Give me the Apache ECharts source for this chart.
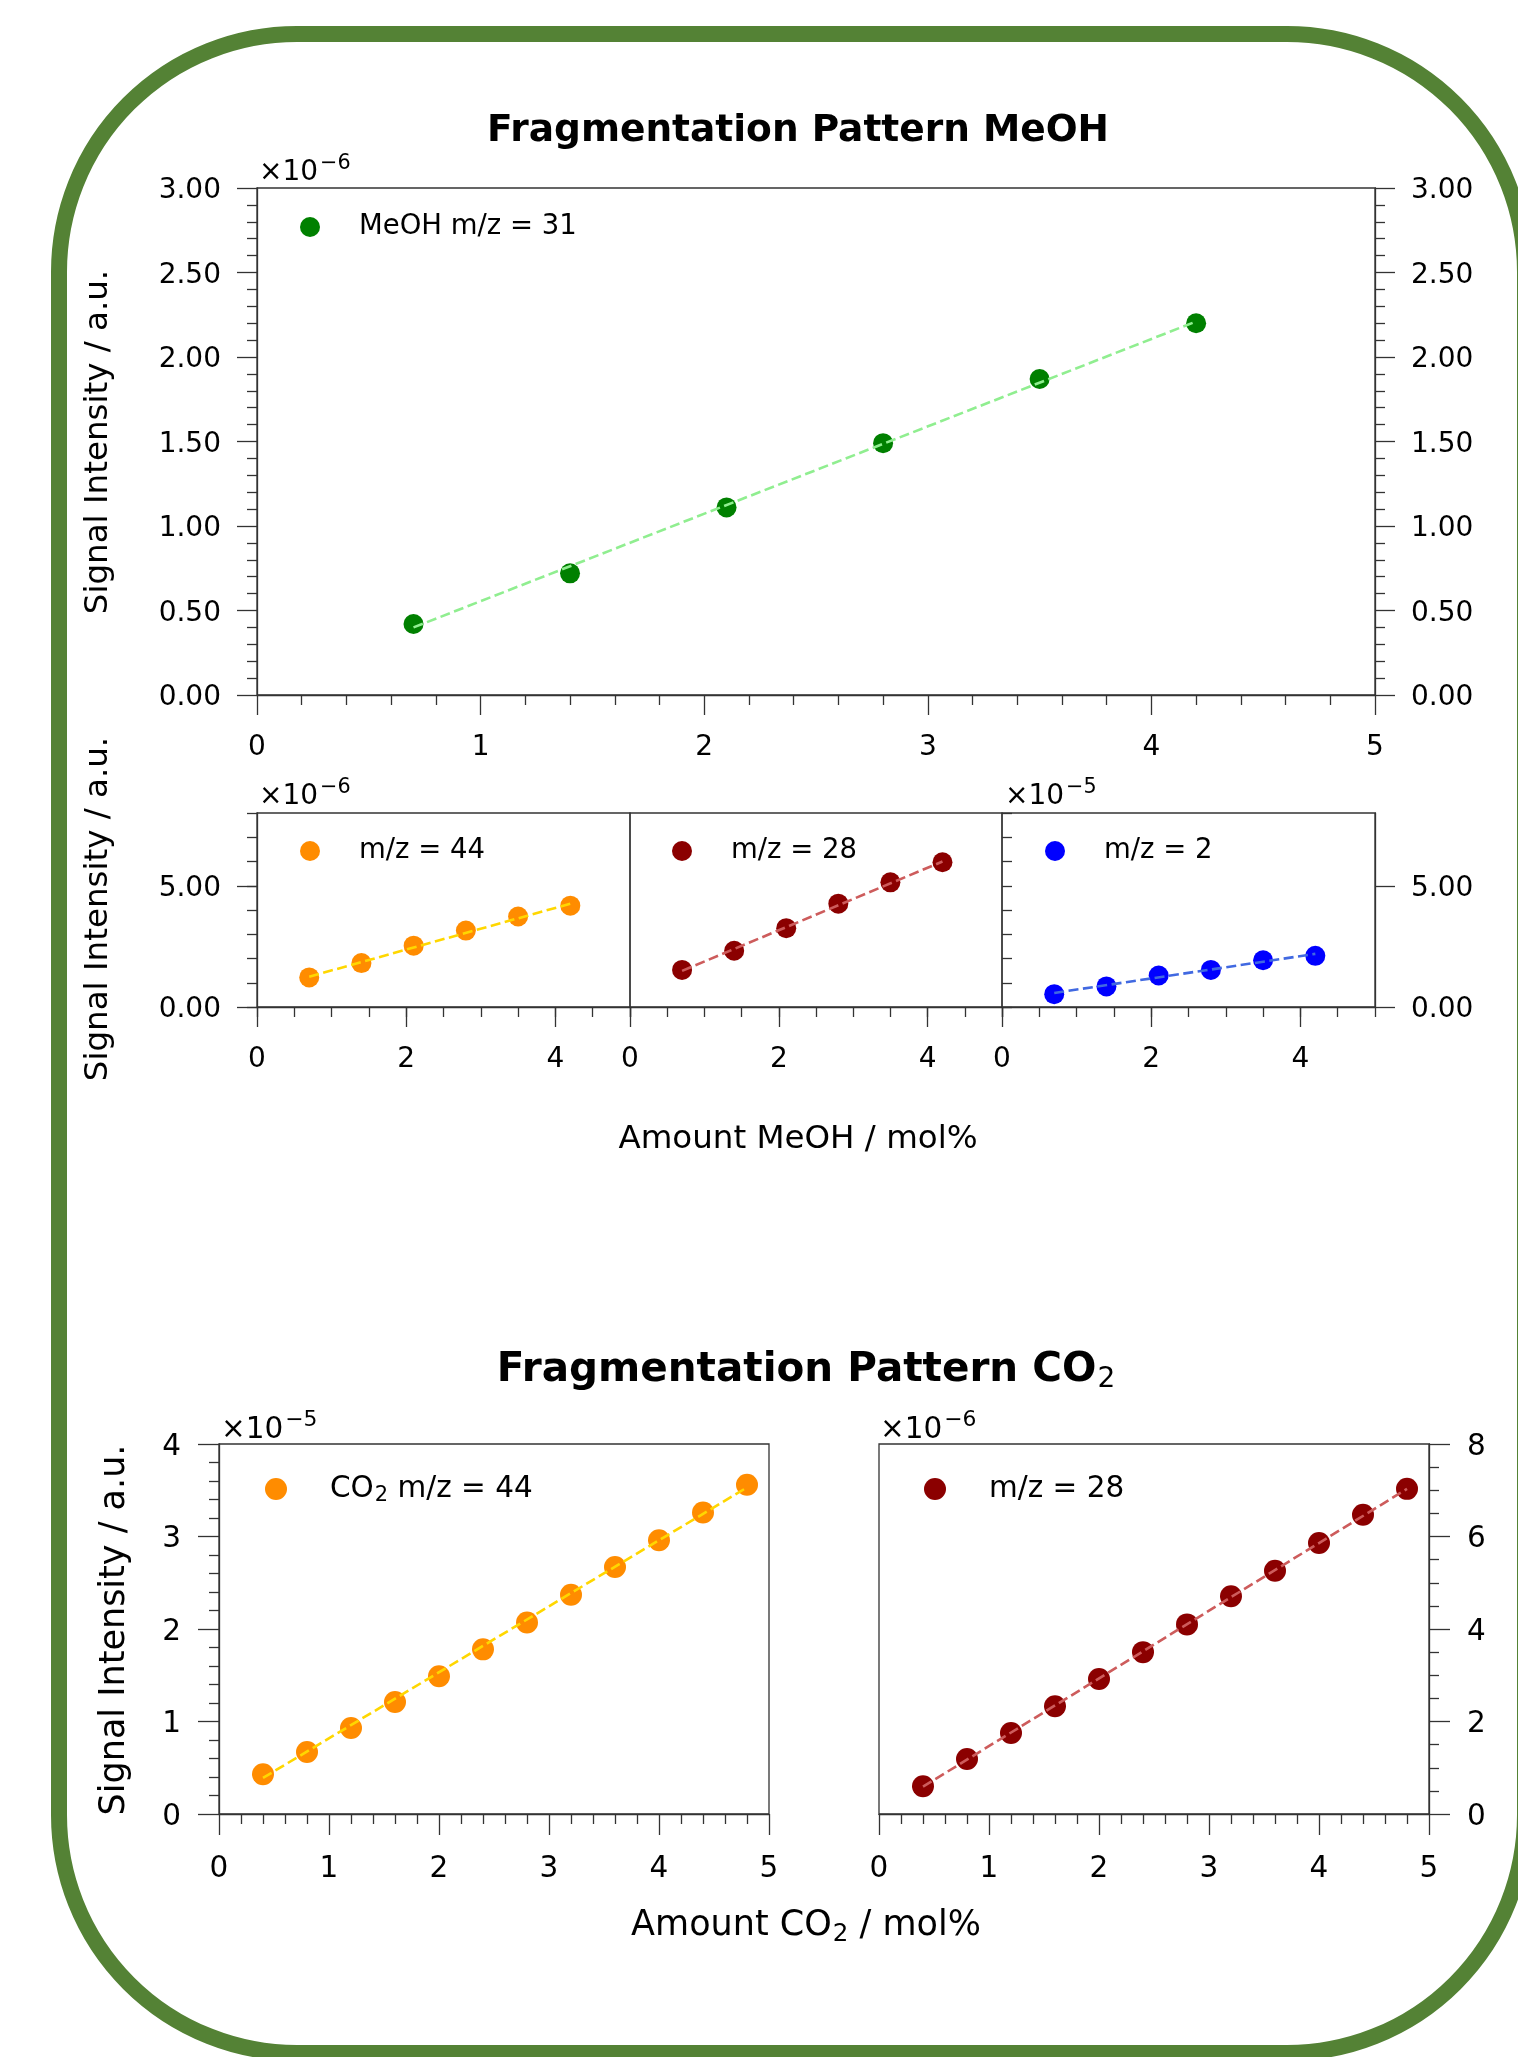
<!DOCTYPE html>
<html><head><meta charset="utf-8">
<script src="https://cdn.jsdelivr.net/npm/echarts@6/dist/echarts.min.js"></script>
<style>html,body{margin:0;padding:0;background:#fff}#c{width:1518px;height:2057px}</style>
</head><body><div id="c"></div>
<script>
// ---------- data ----------
const meohX   = [0.7, 1.4, 2.1, 2.8, 3.5, 4.2];
const meoh31  = [0.42, 0.72, 1.11, 1.49, 1.87, 2.20];   // x1e-6
const meoh44  = [1.22, 1.81, 2.53, 3.15, 3.73, 4.18];   // x1e-6
const meoh28  = [1.53, 2.32, 3.25, 4.26, 5.14, 5.97];   // x1e-6
const meoh2   = [0.53, 0.85, 1.30, 1.53, 1.93, 2.11];   // x1e-5
const meohFitX = [0.7, 4.2];
const fit31   = [0.40, 2.21];
const fit44   = [1.25, 4.26];
const fit28m  = [1.49, 6.00];
const fit2    = [0.58, 2.19];

const co2X    = [0.4, 0.8, 1.2, 1.6, 2.0, 2.4, 2.8, 3.2, 3.6, 4.0, 4.4, 4.8];
const co2_44  = [0.43, 0.67, 0.93, 1.21, 1.49, 1.78, 2.07, 2.37, 2.67, 2.96, 3.26, 3.56]; // x1e-5
const co2_28  = [0.60, 1.19, 1.75, 2.33, 2.92, 3.50, 4.10, 4.71, 5.26, 5.86, 6.47, 7.03]; // x1e-6
const co2FitX = [0.4, 4.8];
const fitC44  = [0.39, 3.53];
const fitC28  = [0.59, 7.03];

const midXMajor = [0, 2, 4];
const midYMajor = [0, 5];

const names = {
  m31: 'MeOH m/z = 31', m44: 'm/z = 44', m28: 'm/z = 28', m2: 'm/z = 2',
  c44: 'CO\u2082 m/z = 44', c28: 'm/z = 28'
};

// ---------- styling ----------
const FONT = 'DejaVu Sans';
const AX = '#333';
const LW = 1.3;
const TOPF = 28, BOTF = 29.5;
function zip(xs, ys){ return xs.map((x,i)=>[x, ys[i]]); }
function line(){ return {show:true, onZero:false, lineStyle:{color:AX, width:LW}}; }
function lab(extra, fs){ return Object.assign({fontFamily:FONT, fontSize:fs||TOPF, color:'#000'}, extra||{}); }

function valAxis(o){
  const a = {
    type:'value', gridIndex:o.grid, min:o.min, max:o.max, interval:o.interval,
    position:o.position,
    axisLine: o.noLine ? {show:false} : line(),
    axisTick: Object.assign({show:true, length:o.tickLen||20, lineStyle:{color:AX, width:LW}}, o.tickExtra||{}),
    minorTick: o.minor ? {show:true, splitNumber:o.minor, length:10, lineStyle:{color:AX, width:LW}} : {show:false},
    splitLine:{show:false}, minorSplitLine:{show:false},
    axisLabel: o.noLabel ? {show:false} : lab(Object.assign({margin:o.margin||35}, o.labelExtra||{}), o.fs)
  };
  if (o.show === false) a.show = false;
  return a;
}
// y labels: rich token with a top padding nudges the text down a little
function yLab(dec, fs){
  return {
    formatter: v => '{p|' + (dec ? v.toFixed(dec) : String(v)) + '}',
    rich:{p:{fontFamily:FONT, fontSize:fs, color:'#000', padding:[6,0,0,0]}}
  };
}

const grids = [
  {left:257, top:188, width:1118, height:507},
  {left:257, top:813, width:373, height:194},
  {left:630, top:813, width:372, height:194},
  {left:1002, top:813, width:373, height:194},
  {left:219, top:1444, width:550, height:370},
  {left:879, top:1444, width:550, height:370}
].map(g => Object.assign({show:true, borderColor:AX, borderWidth:LW, containLabel:false}, g));

const xAxes = [
  valAxis({grid:0, min:0, max:5, interval:1, minor:5, position:'bottom', margin:39}),
  valAxis({grid:1, min:0, max:5, interval:1, position:'bottom', margin:39, tickExtra:{customValues:midXMajor}, labelExtra:{customValues:midXMajor}}),
  valAxis({grid:1, min:0, max:5, interval:0.5, position:'bottom', noLine:true, noLabel:true, tickLen:10}),
  valAxis({grid:2, min:0, max:5, interval:1, position:'bottom', margin:39, tickExtra:{customValues:midXMajor}, labelExtra:{customValues:midXMajor}}),
  valAxis({grid:2, min:0, max:5, interval:0.5, position:'bottom', noLine:true, noLabel:true, tickLen:10}),
  valAxis({grid:3, min:0, max:5, interval:1, position:'bottom', margin:39, tickExtra:{customValues:midXMajor}, labelExtra:{customValues:midXMajor}}),
  valAxis({grid:3, min:0, max:5, interval:0.5, position:'bottom', noLine:true, noLabel:true, tickLen:10}),
  valAxis({grid:4, min:0, max:5, interval:1, minor:5, position:'bottom', margin:40, fs:BOTF, tickLen:21}),
  valAxis({grid:5, min:0, max:5, interval:1, minor:5, position:'bottom', margin:40, fs:BOTF, tickLen:21})
];

const yAxes = [
  valAxis({grid:0, min:0, max:3, interval:0.5, minor:5, position:'left', margin:36, labelExtra:yLab(2, TOPF)}),
  valAxis({grid:0, min:0, max:3, interval:0.5, minor:5, position:'right', margin:36, labelExtra:yLab(2, TOPF)}),
  valAxis({grid:1, min:0, max:8, interval:1, position:'left', margin:36, tickExtra:{customValues:midYMajor}, labelExtra:Object.assign({customValues:midYMajor}, yLab(2, TOPF))}),
  valAxis({grid:1, min:0, max:8, interval:1, position:'left', noLine:true, noLabel:true, tickLen:10}),
  valAxis({grid:2, min:0, max:8, interval:1, position:'left', show:false}),
  valAxis({grid:3, min:0, max:8, interval:1, position:'right', margin:36, tickExtra:{customValues:midYMajor}, labelExtra:Object.assign({customValues:midYMajor}, yLab(2, TOPF))}),
  valAxis({grid:3, min:0, max:8, interval:1, position:'right', noLine:true, noLabel:true, tickLen:10}),
  valAxis({grid:4, min:0, max:4, interval:1, minor:5, position:'left', margin:38, fs:BOTF, tickLen:21, labelExtra:yLab(0, BOTF)}),
  valAxis({grid:5, min:0, max:8, interval:2, minor:4, position:'right', margin:38, fs:BOTF, tickLen:21, labelExtra:yLab(0, BOTF)})
];

function scatter(name, xs, ys, xi, yi, color, size){
  return {type:'scatter', name, data:zip(xs, ys), xAxisIndex:xi, yAxisIndex:yi,
    symbol:'circle', symbolSize:size, itemStyle:{color, opacity:1}, z:2, silent:true};
}
function fitLine(xs, ys, xi, yi, color){
  return {type:'line', data:zip(xs, ys), xAxisIndex:xi, yAxisIndex:yi, symbol:'none',
    lineStyle:{color, width:2.6, type:[10,4.5]}, z:3, silent:true};
}

const series = [
  scatter(names.m31, meohX, meoh31, 0, 0, '#008000', 20),
  fitLine(meohFitX, fit31, 0, 0, '#90ee90'),
  scatter(names.m44, meohX, meoh44, 1, 2, '#ff8c00', 20),
  fitLine(meohFitX, fit44, 1, 2, '#ffd700'),
  scatter(names.m28, meohX, meoh28, 3, 4, '#8b0000', 20),
  fitLine(meohFitX, fit28m, 3, 4, '#cd5c5c'),
  scatter(names.m2, meohX, meoh2, 5, 5, '#0000ff', 20),
  fitLine(meohFitX, fit2, 5, 5, '#4169e1'),
  scatter(names.c44, co2X, co2_44, 7, 7, '#ff8c00', 22),
  fitLine(co2FitX, fitC44, 7, 7, '#ffd700'),
  scatter(names.c28, co2X, co2_28, 8, 8, '#8b0000', 22),
  fitLine(co2FitX, fitC28, 8, 8, '#cd5c5c')
];

function legend(name, left, top, size, gap, fs, extra){
  return Object.assign({data:[{name, icon:'circle'}], left, top, padding:0, itemWidth:size, itemHeight:size,
    selectedMode:false, textStyle:{fontFamily:FONT, fontSize:fs, color:'#000', padding:[0,0,0,gap]}}, extra||{});
}
const co2LegendRich = {
  formatter: () => '{a|CO}{s|2}{a| m/z = 44}',
  textStyle:{fontFamily:FONT, fontSize:BOTF, color:'#000', padding:[0,0,0,38],
    rich:{a:{fontFamily:FONT, fontSize:BOTF, color:'#000'},
          s:{fontFamily:FONT, fontSize:21, color:'#000', padding:[14,0,0,1]}}}
};
const legends = [
  legend(names.m31, 300, 213, 20, 34, 27.5),
  legend(names.m44, 300, 837, 20, 34, 27.5),
  legend(names.m28, 672, 837, 20, 34, 27.5),
  legend(names.m2, 1045, 837, 20, 34, 27.5),
  legend(names.c44, 265, 1474, 22, 38, BOTF, co2LegendRich),
  legend(names.c28, 924, 1474, 22, 38, BOTF)
];

function expo(x, y, p, fs){
  return {type:'text', z:10, style:{x, y, align:'left', verticalAlign:'middle',
    text:'{b|\u00d710}{s|\u2212' + p + '}',
    rich:{b:{fontFamily:FONT, fontSize:fs, lineHeight:fs*1.4, fill:'#000'},
          s:{fontFamily:FONT, fontSize:fs*0.74, verticalAlign:'top', padding:[0,0,0,2], fill:'#000'}}}};
}
function txt(x, y, text, size, bold, rot){
  return {type:'text', z:10, x, y, rotation:rot||0,
    style:{x:0, y:0, text, align:'center', verticalAlign:'middle', fill:'#000',
      font:(bold?'bold ':'') + size + 'px "' + FONT + '"'}};
}
function subTxt(x, y, pre, post, size, bold, subSize, shift){
  return {type:'text', z:10, x, y,
    style:{x:0, y:0, align:'center', verticalAlign:'middle', fill:'#000',
      text:'{a|' + pre + '}{s|2}' + (post ? '{a|' + post + '}' : ''),
      rich:{a:{fontFamily:FONT, fontSize:size, fontWeight:bold?'bold':'normal', fill:'#000'},
            s:{fontFamily:FONT, fontSize:subSize, fontWeight:'normal', fill:'#000', padding:[shift*2,0,0,1]}}}};
}

const graphic = [
  {type:'rect', z:-1, shape:{x:59, y:34, width:1466, height:2019, r:238},
   style:{fill:'none', stroke:'#548235', lineWidth:16}},
  txt(798, 131, 'Fragmentation Pattern MeOH', 37.5, true),
  subTxt(806, 1370, 'Fragmentation Pattern CO', '', 40.5, true, 28, 10),
  txt(798, 1140, 'Amount MeOH / mol%', 32.5, false),
  subTxt(806, 1926, 'Amount CO', ' / mol%', 35, false, 24.5, 9),
  txt(99, 442, 'Signal Intensity / a.u.', 32.5, false, Math.PI/2),
  txt(99, 909, 'Signal Intensity / a.u.', 32.5, false, Math.PI/2),
  txt(115, 1630, 'Signal Intensity / a.u.', 35, false, Math.PI/2),
  expo(259, 173, '6', 28),
  expo(259, 797, '6', 28),
  expo(1005, 797, '5', 28),
  expo(221, 1430, '5', BOTF),
  expo(880, 1430, '6', BOTF)
];

const chart = echarts.init(document.getElementById('c'), null, {renderer:'canvas'});
chart.setOption({
  animation:false, backgroundColor:'#fff',
  grid:grids, xAxis:xAxes, yAxis:yAxes, series, legend:legends, graphic
});
</script></body></html>
